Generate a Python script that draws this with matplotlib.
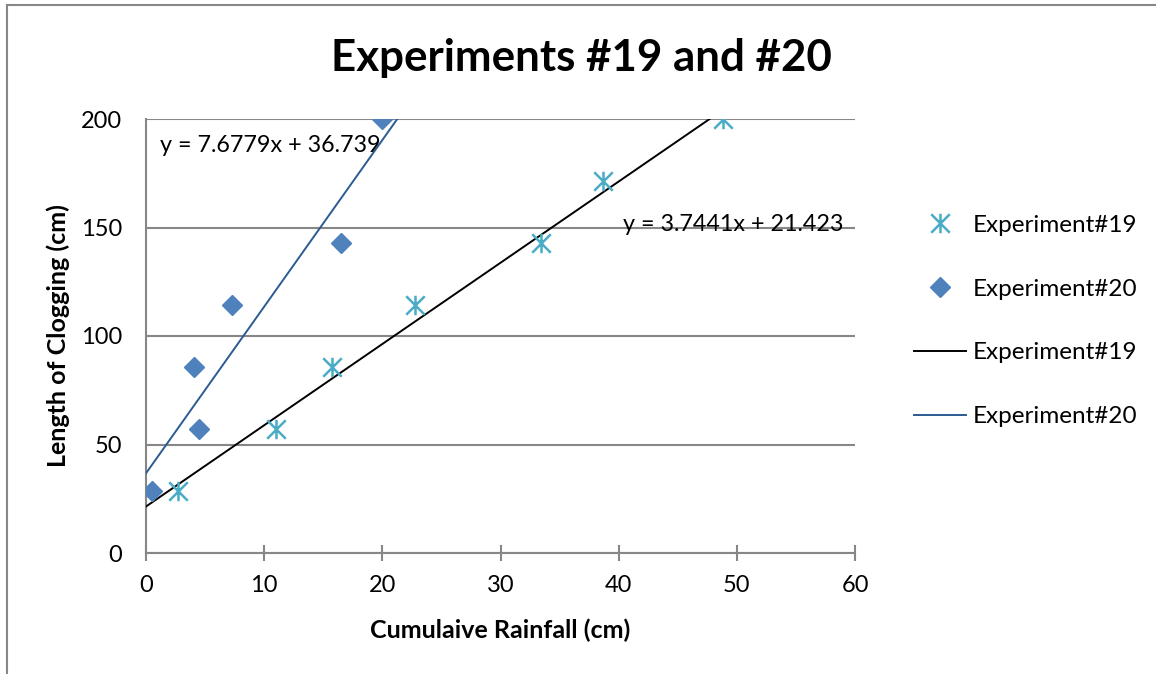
import matplotlib
matplotlib.use("Agg")
import matplotlib.pyplot as plt
from matplotlib.path import Path
from matplotlib.lines import Line2D
import numpy as np

# Data
exp19_x = [2.7, 11.0, 15.7, 22.8, 33.4, 38.7, 48.8]
exp19_y = [28.57, 57.14, 85.71, 114.29, 142.86, 171.43, 200.0]
exp20_x = [0.5, 4.5, 4.1, 7.3, 16.5, 20.0]
exp20_y = [28.57, 57.14, 85.71, 114.29, 142.86, 200.0]
fit19 = (3.7441, 21.423)
fit20 = (7.6779, 36.739)
fit19_range = [0.0, 48.0]
fit20_range = [0.0, 21.4]
xticks = [0, 10, 20, 30, 40, 50, 60]
yticks = [0, 50, 100, 150, 200]

FONT = "Lato"
plt.rcParams['font.family'] = [FONT, 'DejaVu Sans']

fig = plt.figure(figsize=(11.56, 6.74), dpi=100)
ax = fig.add_axes([146/1156, 1-553/674, (855-146)/1156, (553-119)/674])

# custom star marker (X plus vertical line)
star = Path([(-1, -1), (1, 1), (-1, 1), (1, -1), (0, -1.05), (0, 1.05)],
            [Path.MOVETO, Path.LINETO, Path.MOVETO, Path.LINETO, Path.MOVETO, Path.LINETO])

c19 = "#4BACC6"
c20 = "#4F81BD"
l19 = "#000000"
l20 = "#2C5A92"
GRAY = '#878787'

ax.plot(exp19_x, exp19_y, linestyle='none', marker=star, ms=14, mec=c19, mew=1.8, zorder=4)
ax.plot(exp20_x, exp20_y, linestyle='none', marker='D', ms=10, mfc=c20, mec=c20, zorder=4)

fx19 = np.array(fit19_range)
fx20 = np.array(fit20_range)
ax.plot(fx19, fit19[0]*fx19 + fit19[1], color=l19, lw=1.4, zorder=3)
ax.plot(fx20, fit20[0]*fx20 + fit20[1], color=l20, lw=1.4, zorder=3)

ax.text(1.2, 188, "y = 7.6779x + 36.739", fontsize=16.8, va='center', ha='left')
ax.text(40.4, 151.5, "y = 3.7441x + 21.423", fontsize=16.8, va='center', ha='left')

ax.set_xlim(0, 60)
ax.set_ylim(0, 200)
ax.set_xticks(xticks)
ax.set_yticks(yticks)
ax.tick_params(axis='x', direction='inout', length=12, width=1.5, color=GRAY, pad=10, labelsize=17)
ax.tick_params(axis='y', length=0, pad=17, labelsize=17)
ax.yaxis.grid(True, color=GRAY, lw=1.5)
ax.set_axisbelow(True)
for s in ['top', 'right']:
    ax.spines[s].set_visible(False)
for s in ['left', 'bottom']:
    ax.spines[s].set_color(GRAY)
    ax.spines[s].set_linewidth(1.5)

ax.set_xlabel("Cumulaive Rainfall (cm)", fontsize=18, fontweight='bold', labelpad=16)
ax.set_ylabel("Length of Clogging (cm)", fontsize=18, fontweight='bold', labelpad=8)

fig.suptitle("Experiments #19 and #20", fontsize=31.6, fontweight='bold', x=0.503, y=1-58/674, va='center')

handles = [
    Line2D([], [], linestyle='none', marker=star, ms=14, mec=c19, mew=1.8),
    Line2D([], [], linestyle='none', marker='D', ms=10, mfc=c20, mec=c20),
    Line2D([], [], color=l19, lw=1.4),
    Line2D([], [], color=l20, lw=1.4),
]
labels = ["Experiment#19", "Experiment#20", "Experiment#19", "Experiment#20"]
fig.legend(handles, labels, loc='center left', bbox_to_anchor=(914/1156, 1-321/674),
           frameon=False, fontsize=17.5, handlelength=2.15, handletextpad=0.25,
           labelspacing=1.76, borderpad=0, borderaxespad=0)

# chart border fragments
fig.add_artist(Line2D([7/1156, 7/1156], [0, 1-5/674], color=GRAY, lw=1.5, transform=fig.transFigure))
fig.add_artist(Line2D([7/1156, 1], [1-5/674, 1-5/674], color=GRAY, lw=1.5, transform=fig.transFigure))

fig.savefig("out.png", dpi=100)
